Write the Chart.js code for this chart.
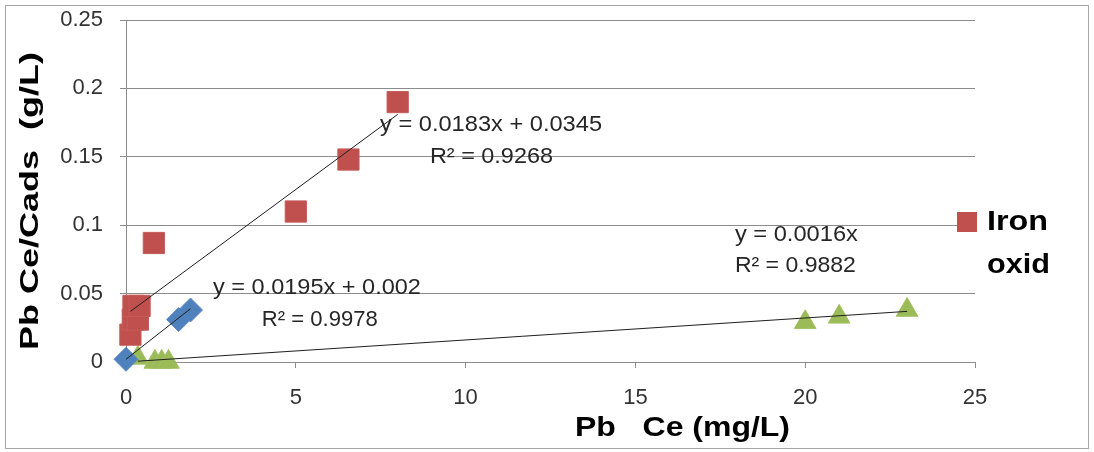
<!DOCTYPE html>
<html>
<head>
<meta charset="utf-8">
<script src="https://cdn.jsdelivr.net/npm/chart.js@4.4.1/dist/chart.umd.min.js"></script>
<style>
    html, body { margin: 0; padding: 0; background: #fff; }
    #wrap { position: relative; width: 1094px; height: 452px; }
    canvas { display: block; }
</style>
</head>
<body>
<div id="wrap"><canvas id="chart" width="1094" height="452"></canvas></div>
<script>
// Axis ticks
const xTicks = [0, 5, 10, 15, 20, 25];
const yTickLabels = ['0', '0.05', '0.1', '0.15', '0.2', '0.25'];

// Iron oxid (red squares)
const ironX = [0.13, 0.2, 0.35, 0.22, 0.4, 0.82, 5.0, 6.55, 8.0];
const ironY = [0.020, 0.031, 0.031, 0.041, 0.041, 0.087, 0.110, 0.148, 0.190];

// blue diamonds
const blueX = [0.0, 1.55, 1.9];
const blueY = [0.002, 0.031, 0.038];

// green triangles
const greenX = [0.35, 0.85, 1.05, 1.25, 20.0, 21.0, 23.0];
const greenY = [0.003, 0.0, 0.0, 0.0, 0.029, 0.033, 0.038];

// trendline end points
const ironFitX = [0.13, 8.0];
const ironFitY = [0.037, 0.181];
const blueFitX = [0.0, 1.9];
const blueFitY = [0.002, 0.039];
const greenFitX = [0.35, 23.0];
const greenFitY = [0.0006, 0.037];

const FONT = '"Liberation Sans", Arial, sans-serif';

// trendline equations, anchored in data units (left edge, vertical middle)
const trendLabels = [
    { text: 'y = 0.0183x + 0.0345', x: 7.48, y: 0.1732, w: 222 },
    { text: 'R² = 0.9268', x: 8.95, y: 0.1499, w: 123 },
    { text: 'y = 0.0195x + 0.002', x: 2.56, y: 0.0541, w: 208 },
    { text: 'R² = 0.9978', x: 4.0, y: 0.0307, w: 116 },
    { text: 'y = 0.0016x', x: 17.93, y: 0.0928, w: 123 },
    { text: 'R² = 0.9882', x: 17.93, y: 0.0702, w: 121 }
];

const pts = (xs, ys) => xs.map((x, i) => ({ x: x, y: ys[i] }));

// draw text squeezed/stretched to a given width
function fitText(ctx, text, left, midY, width, font, color) {
    ctx.save();
    ctx.font = font;
    const m = ctx.measureText(text).width;
    ctx.translate(left, midY);
    ctx.scale(width / m, 1);
    ctx.fillStyle = color;
    ctx.textBaseline = 'middle';
    ctx.textAlign = 'left';
    ctx.fillText(text, 0, 0);
    ctx.restore();
}

const decor = {
    id: 'decor',
    beforeDraw(chart) {
        const ctx = chart.ctx;
        ctx.save();
        ctx.fillStyle = '#fff';
        ctx.fillRect(0, 0, chart.width, chart.height);
        ctx.strokeStyle = '#a6a6a6';
        ctx.lineWidth = 1;
        ctx.strokeRect(5.5, 5.5, 1083, 443);
        ctx.restore();
    },
    afterDraw(chart) {
        const ctx = chart.ctx;
        const xs = chart.scales.x, ys = chart.scales.y;

        trendLabels.forEach(l => {
            fitText(ctx, l.text, xs.getPixelForValue(l.x), ys.getPixelForValue(l.y),
                l.w, '22px ' + FONT, '#262626');
        });

        // x axis title
        fitText(ctx, 'Pb   Ce (mg/L)', 575, 428, 215, 'bold 28px ' + FONT, '#000');

        // y axis title
        ctx.save();
        ctx.font = 'bold 25px ' + FONT;
        const t = 'Pb Ce/Cads  (g/L)';
        const m = ctx.measureText(t).width;
        ctx.translate(31, 201);
        ctx.rotate(-Math.PI / 2);
        ctx.scale(298 / m, 1);
        ctx.fillStyle = '#000';
        ctx.textAlign = 'center';
        ctx.textBaseline = 'middle';
        ctx.fillText(t, 0, 0);
        ctx.restore();

        // legend (only the visible entry)
        ctx.save();
        ctx.fillStyle = '#C0504D';
        ctx.fillRect(957, 212, 20, 20);
        ctx.restore();
        fitText(ctx, 'Iron', 987, 222, 61, 'bold 28px ' + FONT, '#000');
        fitText(ctx, 'oxid', 987, 265, 63, 'bold 28px ' + FONT, '#000');
    }
};

const trendStyle = {
    type: 'line',
    borderColor: '#1f1f1f',
    borderWidth: 1,
    pointRadius: 0,
    fill: false,
    order: 0,
    clip: false
};

new Chart(document.getElementById('chart'), {
    type: 'scatter',
    data: {
        datasets: [
            Object.assign({ data: pts(ironFitX, ironFitY) }, trendStyle),
            Object.assign({ data: pts(blueFitX, blueFitY) }, trendStyle),
            Object.assign({ data: pts(greenFitX, greenFitY) }, trendStyle),
            {
                label: 'Iron oxid',
                data: pts(ironX, ironY),
                pointStyle: 'rect',
                pointRadius: 15,
                backgroundColor: '#C0504D',
                borderColor: '#C55A57',
                borderWidth: 1,
                order: 1,
                clip: false
            },
            {
                data: pts(blueX, blueY),
                pointStyle: 'rectRot',
                pointRadius: 12,
                backgroundColor: '#4F81BD',
                borderColor: '#5A8AC4',
                borderWidth: 1,
                order: 1,
                clip: false
            },
            {
                data: pts(greenX, greenY),
                pointStyle: 'triangle',
                pointRadius: 12.5,
                backgroundColor: '#9BBB59',
                borderColor: '#A3C162',
                borderWidth: 1,
                order: 1,
                clip: false
            }
        ]
    },
    options: {
        responsive: false,
        animation: false,
        events: [],
        layout: { padding: { left: 0, top: 20, right: 119, bottom: 0 } },
        plugins: {
            legend: { display: false },
            tooltip: { enabled: false }
        },
        scales: {
            x: {
                type: 'linear',
                min: xTicks[0],
                max: xTicks[xTicks.length - 1],
                afterFit: s => { s.height = 90; s.paddingLeft = 0; s.paddingRight = 0; },
                afterBuildTicks: s => { s.ticks = xTicks.map(v => ({ value: v })); },
                grid: { drawOnChartArea: false, drawTicks: true, tickLength: 6, color: '#8c8c8c' },
                border: { display: true, color: '#8c8c8c' },
                ticks: {
                    padding: 17,
                    color: '#333',
                    font: { family: FONT, size: 22 },
                    maxRotation: 0
                }
            },
            y: {
                type: 'linear',
                min: 0,
                max: 0.25,
                afterFit: s => { s.width = 126; s.paddingTop = 0; s.paddingBottom = 0; },
                afterBuildTicks: s => { s.ticks = yTickLabels.map(v => ({ value: parseFloat(v) })); },
                grid: { drawTicks: true, tickLength: 6, color: '#8c8c8c' },
                border: { display: true, color: '#8c8c8c' },
                ticks: {
                    padding: 17,
                    color: '#333',
                    font: { family: FONT, size: 22 },
                    callback: (v, i) => yTickLabels[i]
                }
            }
        }
    },
    plugins: [decor]
});
</script>
</body>
</html>
